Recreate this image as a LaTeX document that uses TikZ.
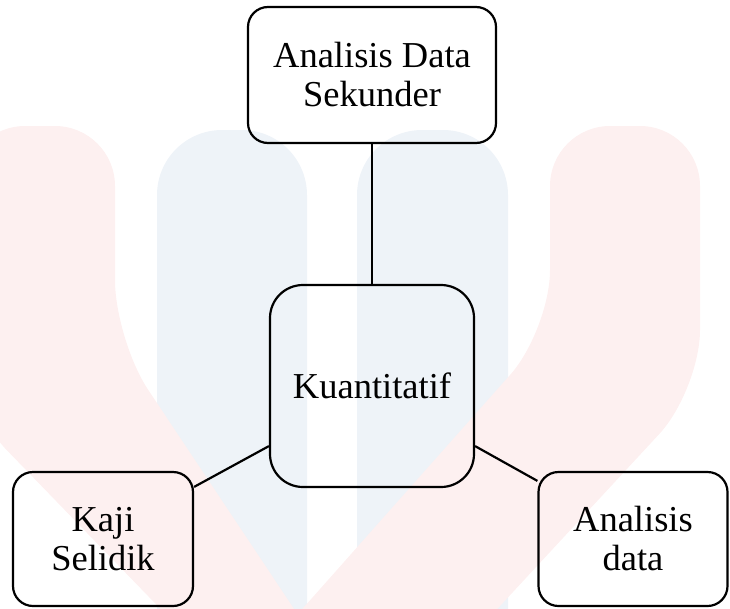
\documentclass[tikz,border=0pt]{standalone}
\usepackage{fontspec}
\setmainfont{Liberation Serif}
\definecolor{wmpink}{HTML}{FDF0F0}
\definecolor{wmblue}{HTML}{EEF3F8}
\begin{document}
\begin{tikzpicture}[x=1pt,y=-1pt,
  box/.style={draw=black, line width=2.2pt, rounded corners=20pt, align=center,
    inner sep=0pt, font=\fontsize{36.5}{39}\selectfont},
  link/.style={draw=black, line width=2.2pt}]
\useasboundingbox (0,0) rectangle (730,608);
% faint watermark
\begin{scope}
\clip (0,0) rectangle (730,608);
\fill[wmblue, rounded corners=65pt] (157,640) -- (157,130) -- (307,130) -- (307,640);
\fill[wmblue, rounded corners=65pt] (357,640) -- (357,130) -- (508,130) -- (508,640);
\fill[wmpink, rounded corners=60pt] (210,660) -- (-35,407) -- (-35,126) -- (115,126) -- (115,340) -- (328,660) -- cycle;
\fill[wmpink, rounded corners=60pt] (450,660) -- (700,390) -- (700,126) -- (550,126) -- (550,330) -- (257,660) -- cycle;
\end{scope}
% nodes
\node[box, minimum width=248pt, minimum height=136pt] (T) at (372,75) {Analisis Data\\Sekunder};
\node[box, rounded corners=33pt, minimum width=204pt, minimum height=202pt] (K) at (372,386) {Kuantitatif};
\node[box, minimum width=180pt, minimum height=134pt] (L) at (103,539) {Kaji\\Selidik};
\node[box, minimum width=189pt, minimum height=134pt] (R) at (633,539) {Analisis\\data};
% connectors
\draw[link] (T.south) -- (K.north);
\draw[link] ([yshift=42pt]K.south west) -- ([yshift=-16pt]L.north east);
\draw[link] ([yshift=42pt]K.south east) -- ([yshift=-10pt]R.north west);
\end{tikzpicture}
\end{document}
